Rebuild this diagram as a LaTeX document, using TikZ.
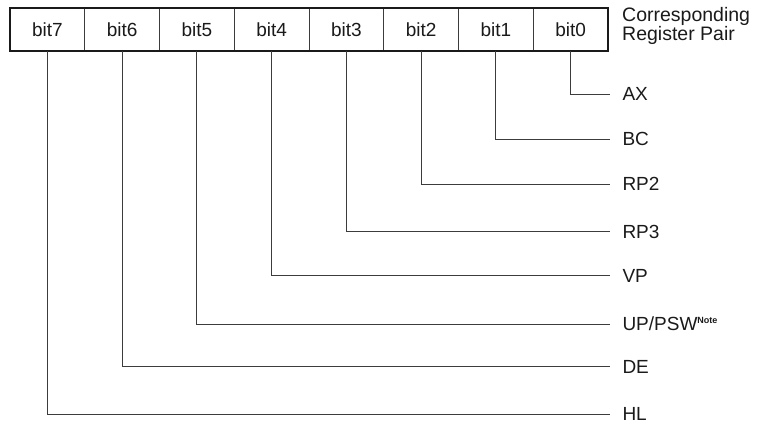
\documentclass[tikz,border=0pt]{standalone}
\usepackage{fontspec}
\setmainfont{Liberation Sans}
\usetikzlibrary{positioning}
\definecolor{ink}{HTML}{1A1A1A}
\definecolor{wireclr}{HTML}{3C3C3C}

\begin{document}
\begin{tikzpicture}[
  x=1pt, y=-1pt,
  bitcell/.style={draw=wireclr, line width=0.8pt, minimum width=74.75pt, minimum height=42pt, inner sep=0pt, font=\fontsize{19}{22}\selectfont, text=ink},
  frame/.style={draw=ink, line width=2pt},
  wire/.style={draw=wireclr, line width=1pt},
  reg/.style={anchor=west, inner xsep=12pt, inner ysep=0pt, font=\fontsize{19}{22}\selectfont, text=ink},
  hdr/.style={anchor=north west, align=left, inner sep=0pt, font=\fontsize{19.5}{15.5}\selectfont, text=ink},
]
\useasboundingbox (0,0) rectangle (769,429);

% bit cells
\node[bitcell] (bit7) at (47.4, 29.5) {bit7};
\node[bitcell] (bit6) at (122.1, 29.5) {bit6};
\node[bitcell] (bit5) at (196.9, 29.5) {bit5};
\node[bitcell] (bit4) at (271.6, 29.5) {bit4};
\node[bitcell] (bit3) at (346.4, 29.5) {bit3};
\node[bitcell] (bit2) at (421.1, 29.5) {bit2};
\node[bitcell] (bit1) at (495.9, 29.5) {bit1};
\node[bitcell] (bit0) at (570.6, 29.5) {bit0};
\draw[frame] (bit7.north west) rectangle (bit0.south east);

\node[hdr] (title) at (622, 7) {Corresponding\\Register Pair};

% register pairs
\node[reg] (ax)   at (610.3, 94.3)  {AX};
\node[reg] (bc)   at (610.3, 139)   {BC};
\node[reg] (rp2)  at (610.3, 184)   {RP2};
\node[reg] (rp3)  at (610.3, 231.7) {RP3};
\node[reg] (vp)   at (610.3, 275.7) {VP};
\node[reg] (upsw) at (610.3, 324)   {UP/PSW\raisebox{7pt}{\fontsize{9}{9}\selectfont\bfseries Note}};
\node[reg] (de)   at (610.3, 366.7) {DE};
\node[reg] (hl)   at (610.3, 414.3) {HL};

\draw[wire] (bit0.south) |- (ax.west);
\draw[wire] (bit1.south) |- (bc.west);
\draw[wire] (bit2.south) |- (rp2.west);
\draw[wire] (bit3.south) |- (rp3.west);
\draw[wire] (bit4.south) |- (vp.west);
\draw[wire] (bit5.south) |- (upsw.west);
\draw[wire] (bit6.south) |- (de.west);
\draw[wire] (bit7.south) |- (hl.west);

\end{tikzpicture}
\end{document}
